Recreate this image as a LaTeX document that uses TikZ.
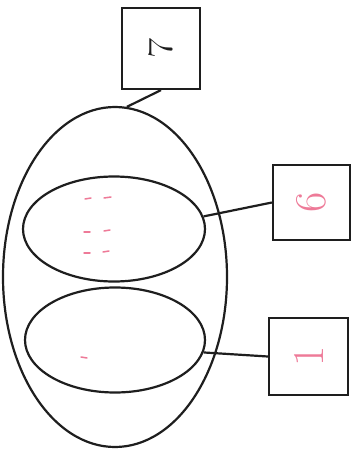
\documentclass[tikz,border=0pt]{standalone}
\usetikzlibrary{shapes.geometric}
\definecolor{inkpink}{RGB}{238,122,152}
\definecolor{ink}{RGB}{30,30,30}
\begin{document}
\begin{tikzpicture}[x=1pt,y=-1pt,
  stroke/.style={draw=ink,line width=2.2pt},
  oval/.style={stroke,ellipse,inner sep=0pt},
  labelbox/.style={stroke,rectangle,inner sep=0pt,minimum width=78pt,minimum height=78pt},
  digit/.style={rotate=90,font=\fontsize{44}{44}\selectfont},
  pinktick/.style={draw=inkpink,line width=1.5pt,line cap=round}]
\useasboundingbox (0,0) rectangle (352,450);
\fill[white] (0,0) rectangle (352,450);
% ellipses
\node[oval,minimum width=224pt,minimum height=340pt] (big) at (115,277) {};
\node[oval,minimum width=182pt,minimum height=105pt] (up) at (114,229) {};
\node[oval,minimum width=180pt,minimum height=105pt] (lo) at (115,340) {};
% boxes
\node[labelbox,minimum width=78pt,minimum height=81pt] (b7) at (161,48.5) {};
\node[labelbox,minimum width=77pt,minimum height=75pt] (b6) at (311.5,202.5) {};
\node[labelbox,minimum width=79pt,minimum height=77pt] (b1) at (308.5,356.5) {};
% labels
\node[digit,text=ink,yscale=0.8] (t7) at (b7.center) {7};
\node[digit,text=inkpink] (t6) at (b6.center) {6};
\node[digit,text=inkpink] (t1) at (b1.center) {1};
% connectors
\draw[stroke] (b7.south) -- (big.86);
\draw[stroke] (b6.west) -- (up.8);
\draw[stroke] (b1.west) -- (lo.-8);
% faint pink marks
\draw[pinktick] (85,199) -- (91,198);
\draw[pinktick] (104,198) -- (111,197);
\draw[pinktick] (84,232) -- (90,232);
\draw[pinktick] (104,231) -- (110,230);
\draw[pinktick] (84,253) -- (90,253);
\draw[pinktick] (103,252) -- (109,251);
\draw[pinktick] (81,357) -- (87,358);
\end{tikzpicture}
\end{document}
